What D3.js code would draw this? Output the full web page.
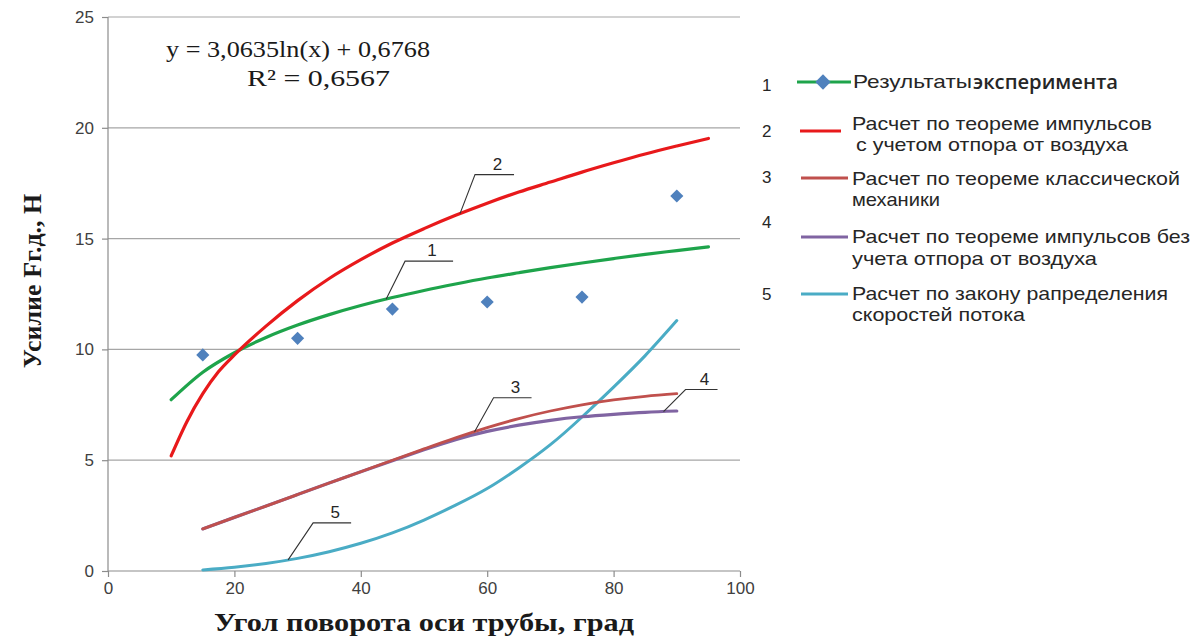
<!DOCTYPE html>
<html lang="ru">
<head>
<meta charset="utf-8">
<title>Усилие в зависимости от угла поворота оси трубы</title>
<script src="https://d3js.org/d3.v7.min.js"></script>
<style>
  body { margin: 0; background: #fff; }
  .tick text { font-family: "Liberation Sans", Arial, sans-serif; font-size: 17px; fill: #404040; }
  .leg { font-family: "Liberation Sans", Arial, sans-serif; font-size: 19px; fill: #262626; }
  .num { font-family: "Liberation Sans", Arial, sans-serif; font-size: 17px; fill: #262626; }
  .title { font-family: "Liberation Serif", "Times New Roman", serif; font-weight: bold; fill: #1a1a1a; }
  .eq { font-family: "Liberation Serif", "Times New Roman", serif; font-size: 23px; fill: #1a1a1a; }
</style>
</head>
<body>
<script>
// 1 - trend line of the experiment (log fit)
var angles1 = [10, 15, 20, 25, 30, 35, 40, 45, 50, 55, 60, 65, 70, 75, 80, 85, 90, 95];
var trend1 = [7.73, 8.97, 9.85, 10.54, 11.10, 11.57, 11.98, 12.34, 12.66, 12.95, 13.22, 13.46, 13.69, 13.90, 14.10, 14.29, 14.46, 14.63];

// 2 - impulse theorem with air resistance
var angles2 = [10, 12.5, 15, 17.5, 20, 25, 30, 35, 40, 45, 50, 55, 60, 65, 70, 75, 80, 85, 90, 95];
var curve2 = [5.2, 6.75, 8.0, 9.0, 9.75, 11.05, 12.2, 13.2, 14.05, 14.8, 15.45, 16.05, 16.6, 17.1, 17.55, 18.0, 18.42, 18.82, 19.18, 19.52];

// angles for curves 3, 4, 5
var angles345 = [15, 20, 25, 30, 35, 40, 45, 50, 55, 60, 65, 70, 75, 80, 85, 90];
var curve3 = [1.9, 2.42, 2.93, 3.45, 3.97, 4.48, 5.0, 5.51, 6.01, 6.47, 6.88, 7.22, 7.5, 7.72, 7.88, 8.0];
var curve4 = [1.9, 2.42, 2.93, 3.45, 3.97, 4.48, 4.98, 5.47, 5.93, 6.3, 6.58, 6.8, 6.96, 7.07, 7.16, 7.22];
var curve5 = [0.05, 0.17, 0.34, 0.57, 0.87, 1.25, 1.72, 2.3, 2.97, 3.72, 4.65, 5.7, 6.95, 8.3, 9.72, 11.3];

// experimental points
var expAngles = [15, 30, 45, 60, 75, 90];
var expForce = [9.75, 10.5, 11.82, 12.14, 12.36, 16.92];

var xTicks = [0, 20, 40, 60, 80, 100];
var yTicks = [0, 5, 10, 15, 20, 25];

// where the numbered callouts touch their curve (angle)
var calloutAt = [44, 55.7, 58, 87.9, 28.5];

var w = 1200, h = 638;
var svg = d3.select("body").append("svg").attr("width", w).attr("height", h);

var x = d3.scaleLinear().domain([0, 100]).range([108, 740]);
var y = d3.scaleLinear().domain([0, 25]).range([571, 17]);

// grid
svg.append("g").selectAll("line")
  .data(yTicks.slice(1))
  .enter().append("line")
  .attr("x1", x(0)).attr("x2", x(100))
  .attr("y1", function(d) { return y(d); })
  .attr("y2", function(d) { return y(d); })
  .attr("stroke", "#a6a6a6").attr("stroke-width", 1.2);

// axes
var xAxis = svg.append("g").attr("transform", "translate(0," + y(0) + ")")
  .call(d3.axisBottom(x).tickValues(xTicks).tickSize(6).tickPadding(5));
var yAxis = svg.append("g").attr("transform", "translate(" + x(0) + ",0)")
  .call(d3.axisLeft(y).tickValues(yTicks).tickSize(6).tickPadding(8));
svg.selectAll(".domain").attr("stroke", "#8c8c8c").attr("stroke-width", 1.2);
svg.selectAll(".tick line").attr("stroke", "#8c8c8c").attr("stroke-width", 1.2);
xAxis.select(".domain").attr("d", "M" + x(0) + ",0H" + x(100));
yAxis.select(".domain").attr("d", "M0," + y(25) + "V" + y(0));

function pairs(xs, ys) { return xs.map(function(d, i) { return [d, ys[i]]; }); }

function lineWith(curve) {
  return d3.line()
    .x(function(d) { return x(d[0]); })
    .y(function(d) { return y(d[1]); })
    .curve(curve);
}
var smooth = lineWith(d3.curveNatural);
var mono = lineWith(d3.curveMonotoneX);

var series = [
  { data: pairs(angles345, curve5), color: "#4aacc5", width: 3, line: smooth },
  { data: pairs(angles345, curve4), color: "#8064a2", width: 3.2, line: smooth },
  { data: pairs(angles345, curve3), color: "#c0504d", width: 2.8, line: smooth },
  { data: pairs(angles1, trend1), color: "#1ea44b", width: 3.2, line: mono },
  { data: pairs(angles2, curve2), color: "#e8191b", width: 3.2, line: mono }
];

svg.append("g").selectAll("path")
  .data(series)
  .enter().append("path")
  .attr("d", function(d) { return d.line(d.data); })
  .attr("fill", "none")
  .attr("stroke", function(d) { return d.color; })
  .attr("stroke-width", function(d) { return d.width; })
  .attr("stroke-linecap", "round");

// diamonds
var diamond = d3.symbol().type(d3.symbolDiamond2).size(110);
svg.append("g").selectAll("path")
  .data(pairs(expAngles, expForce))
  .enter().append("path")
  .attr("d", diamond)
  .attr("transform", function(d) { return "translate(" + x(d[0]) + "," + y(d[1]) + ")"; })
  .attr("fill", "#4f81bd");

// callouts 1..5
function valueAt(xs, ys, a) {
  var i = d3.bisectLeft(xs, a);
  if (i <= 0) return ys[0];
  var t = (a - xs[i - 1]) / (xs[i] - xs[i - 1]);
  return ys[i - 1] + t * (ys[i] - ys[i - 1]);
}
var callSeries = [[angles1, trend1], [angles2, curve2], [angles345, curve3], [angles345, curve4], [angles345, curve5]];
var callOffsets = [[19, -38, 48], [15, -39, 39], [19, -34, 38], [22, -22, 32], [25, -37, 38]];

calloutAt.forEach(function(a, i) {
  var px = x(a), py = y(valueAt(callSeries[i][0], callSeries[i][1], a));
  var o = callOffsets[i];
  svg.append("path")
    .attr("d", "M" + px + "," + py + "L" + (px + o[0]) + "," + (py + o[1]) + "h" + o[2])
    .attr("fill", "none").attr("stroke", "#333").attr("stroke-width", 1.1);
  svg.append("text").attr("class", "num")
    .attr("x", px + o[0] + o[2] / 2 + 3).attr("y", py + o[1] - 5)
    .attr("text-anchor", "middle")
    .text(i + 1);
});

// equation
svg.append("text").attr("class", "eq").attr("x", 166).attr("y", 57)
  .attr("textLength", 264).attr("lengthAdjust", "spacingAndGlyphs")
  .text("y = 3,0635ln(x) + 0,6768");
svg.append("text").attr("class", "eq").attr("x", 247).attr("y", 86)
  .attr("textLength", 143).attr("lengthAdjust", "spacingAndGlyphs")
  .text("R² = 0,6567");

// axis titles
svg.append("text").attr("class", "title").attr("x", 424).attr("y", 631)
  .attr("text-anchor", "middle").style("font-size", "25px")
  .attr("textLength", 420).attr("lengthAdjust", "spacingAndGlyphs")
  .text("Угол поворота оси трубы, град");
svg.append("text").attr("class", "title")
  .attr("transform", "translate(41,281) rotate(-90)")
  .attr("text-anchor", "middle").style("font-size", "26px")
  .text("Усилие Fг.д., Н");

// legend
var legend = [
  { n: "1", ny: 91, ly: 82, color: "#1ea44b", x1: 797, x2: 851, lines: [] },
  { n: "2", ny: 137, ly: 131, color: "#e8191b", x1: 800, x2: 841,
    lines: [["Расчет по теореме импульсов", 852, 130, 300], ["с учетом отпора от воздуха", 856, 151, 272]] },
  { n: "3", ny: 183, ly: 178, color: "#c0504d", x1: 801, x2: 848,
    lines: [["Расчет по теореме классической", 852, 185, 328], ["механики", 852, 206, 88]] },
  { n: "4", ny: 228, ly: 237, color: "#8064a2", x1: 801, x2: 848,
    lines: [["Расчет по теореме импульсов без", 852, 243, 338], ["учета отпора от воздуха", 852, 265, 245]] },
  { n: "5", ny: 300, ly: 294, color: "#4aacc5", x1: 801, x2: 848,
    lines: [["Расчет по закону рапределения", 852, 300, 316], ["скоростей потока", 852, 321, 173]] }
];
var lg = svg.append("g");
legend.forEach(function(d) {
  lg.append("text").attr("class", "num").attr("x", 762).attr("y", d.ny).text(d.n);
  lg.append("line").attr("x1", d.x1).attr("x2", d.x2).attr("y1", d.ly).attr("y2", d.ly)
    .attr("stroke", d.color).attr("stroke-width", 3);
  d.lines.forEach(function(t) {
    lg.append("text").attr("class", "leg").attr("x", t[1]).attr("y", t[2])
      .attr("textLength", t[3]).attr("lengthAdjust", "spacingAndGlyphs")
      .text(t[0]);
  });
});
lg.append("path").attr("d", d3.symbol().type(d3.symbolDiamond2).size(150))
  .attr("transform", "translate(823,82)").attr("fill", "#4f81bd");
lg.append("text").attr("class", "leg").attr("x", 853).attr("y", 88)
  .attr("textLength", 119).attr("lengthAdjust", "spacingAndGlyphs").text("Результаты");
lg.append("text").attr("x", 973).attr("y", 89)
  .style("font-family", "'Open Sans', sans-serif").style("font-weight", 600).style("font-size", "19px")
  .attr("textLength", 145).attr("lengthAdjust", "spacingAndGlyphs")
  .attr("fill", "#262626").text("эксперимента");
</script>
</body>
</html>
